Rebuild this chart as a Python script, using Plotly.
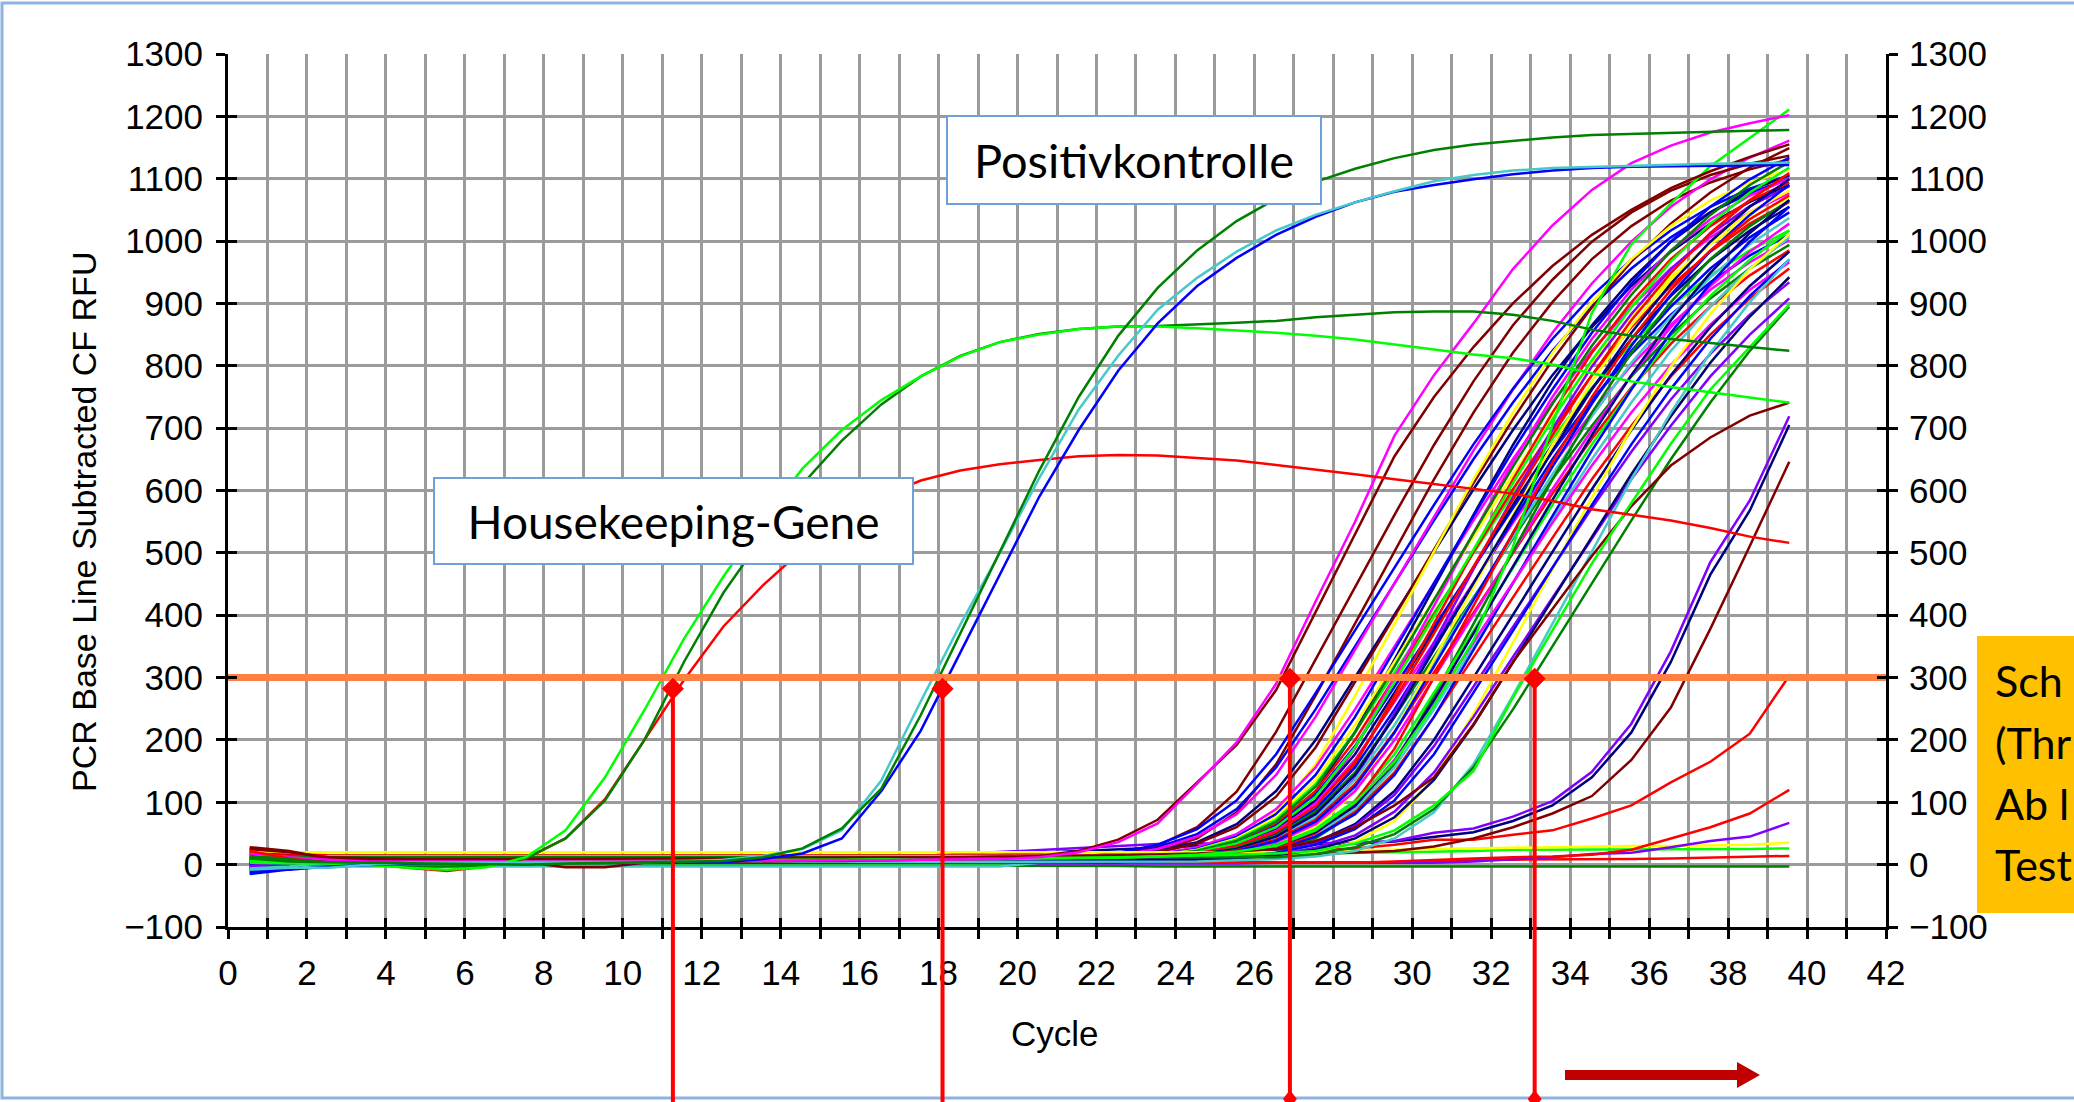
import plotly.graph_objects as go

# ---------------- data ----------------
cycles = list(range(1, 41))          # PCR cycles 1..40
cycle_draw_offset = 0.45             # the instrument plots cycle n at n-0.45

threshold_rfu = 300
ct_cycles = [11.27, 18.1, 26.9, 33.1]
ct_marker_rfu = [282, 282, 298, 298]

# housekeeping genes
hk_lime = [8, 3, 2, 0, -5, -8, -4, 12, 55, 140,
           248, 362, 462, 552, 635, 697, 745, 783, 815, 838,
           850, 859, 863, 863, 860, 857, 853, 848, 842, 834,
           826, 818, 812, 802, 788, 775, 766, 757, 749, 741]
hk_dkgreen = [14, 8, 3, 0, -3, -3, -2, 10, 42, 103,
              200, 325, 436, 526, 610, 680, 738, 783, 816, 838,
              851, 859, 863, 864, 866, 869, 872, 878, 882, 886,
              887, 887, 882, 872, 858, 848, 843, 837, 830, 824]
hk_red = [22, 10, 3, 2, -5, -10, -3, 10, 42, 105,
          200, 296, 382, 448, 505, 553, 590, 616, 632, 642,
          649, 655, 657, 656, 652, 648, 641, 634, 626, 618,
          610, 603, 595, 583, 570, 561, 552, 540, 526, 516]

# positive controls
pc_dkgreen = [10, 5, 4, 3, 2, 2, 1, 0, 2, 3,
              3, 4, 6, 12, 26, 58, 122, 240, 370, 500,
              632, 750, 848, 925, 985, 1032, 1068, 1095, 1116, 1133,
              1146, 1155, 1161, 1166, 1170, 1172, 1174, 1176, 1177, 1178]
pc_teal = [-8, -5, -5, 0, 3, 3, 3, 3, 3, 3,
           4, 5, 8, 14, 25, 55, 135, 262, 385, 500,
           620, 730, 816, 890, 941, 983, 1017, 1042, 1062, 1080,
           1096, 1106, 1113, 1117, 1119, 1121, 1123, 1124, 1125, 1126]
pc_blue = [-15, -8, -3, 0, 2, 2, 2, 2, 3, 3,
           3, 3, 4, 9, 18, 42, 118, 215, 340, 465,
           590, 697, 792, 868, 928, 973, 1010, 1039, 1062, 1079,
           1090, 1099, 1107, 1113, 1117, 1119, 1120, 1121, 1122, 1122]

# individual samples
magenta_early = [18, 12, 8, 5, 5, 5, 4, 4, 5, 5,
                 5, 5, 6, 6, 6, 7, 7, 8, 8, 9,
                 12, 20, 36, 66, 130, 196, 290, 422, 550, 688,
                 785, 868, 955, 1025, 1082, 1125, 1153, 1174, 1189, 1202]
maroon_early = [28, 22, 10, 6, 5, 5, 4, 4, -4, -4,
                3, 4, 5, 5, 6, 6, 7, 8, 9, 10,
                14, 22, 40, 72, 132, 192, 280, 405, 530, 655,
                750, 830, 900, 960, 1010, 1050, 1085, 1112, 1135, 1155]
lime_high = [5, 3, 4, 4, 4, 4, 4, 4, 5, 5,
             5, 6, 6, 6, 7, 7, 8, 8, 9, 9,
             10, 10, 11, 13, 16, 21, 30, 55, 100, 165,
             255, 360, 510, 705, 885, 995, 1060, 1120, 1165, 1211]
lime_late = [3, 2, 3, 4, 4, 4, 5, 5, 5, 6,
             6, 6, 7, 7, 8, 8, 8, 9, 9, 10,
             10, 11, 12, 13, 14, 16, 18, 22, 34, 55,
             95, 150, 268, 375, 483, 580, 675, 762, 830, 898]
maroon_mid = [25, 20, 12, 10, 9, 9, 9, 9, 10, 10,
              10, 10, 10, 11, 11, 11, 12, 12, 12, 13,
              13, 14, 15, 16, 18, 21, 25, 38, 60, 95,
              140, 225, 325, 410, 495, 575, 640, 685, 720, 741]
purple_late = [-8, -3, 0, 2, 3, 3, 4, 4, 5, 5,
               6, 6, 7, 8, 9, 10, 12, 14, 17, 20,
               24, 27, 30, 33, 34, 34, 34, 35, 35, 38,
               51, 58, 77, 102, 149, 226, 342, 485, 584, 719]
navy_late = [2, 2, 3, 3, 3, 4, 4, 4, 5, 5,
             5, 6, 6, 7, 8, 9, 10, 12, 14, 16,
             19, 22, 25, 28, 30, 31, 32, 33, 34, 37,
             45, 52, 70, 95, 140, 212, 325, 465, 568, 705]
maroon_late = [10, 8, 6, 5, 5, 5, 5, 5, 5, 6,
               6, 6, 6, 7, 7, 7, 8, 8, 8, 9,
               9, 10, 10, 11, 12, 13, 15, 17, 19, 22,
               29, 42, 60, 82, 110, 168, 252, 378, 511, 646]
red_late = [5, 4, 4, 4, 4, 4, 5, 5, 5, 5,
            6, 6, 6, 7, 7, 8, 8, 9, 9, 10,
            11, 12, 13, 14, 16, 18, 20, 23, 26, 32,
            40, 40, 48, 55, 74, 95, 132, 165, 210, 303]
red_late2 = [6, 5, 4, 4, 4, 4, 4, 4, 4, 4,
             4, 4, 4, 4, 4, 4, 4, 4, 4, 4,
             4, 4, 4, 4, 3, 3, 3, 3, 3, 5,
             8, 10, 12, 13, 16, 24, 42, 60, 82, 120]
purple_late2 = [-5, -2, 0, 1, 1, 1, 1, 1, 2, 2,
                2, 2, 2, 2, 2, 2, 2, 2, 2, 2,
                2, 2, 2, 2, 2, 2, 3, 3, 3, 3,
                3, 5, 8, 12, 17, 19, 28, 38, 45, 67]
yellow_flat = [10, 8, 6, 6, 6, 7, 7, 8, 8, 8,
               9, 9, 10, 10, 11, 11, 12, 12, 13, 14,
               15, 16, 17, 18, 19, 20, 21, 22, 23, 24,
               25, 26, 28, 29, 29, 30, 30, 31, 32, 35]
lime_flat = [12, 10, 8, 8, 8, 8, 8, 9, 9, 9,
             9, 10, 10, 10, 11, 11, 11, 12, 12, 12,
             13, 13, 14, 14, 15, 16, 17, 18, 19, 19,
             20, 22, 24, 24, 24, 25, 25, 25, 25, 26]
red_flat = [20, 15, 10, 8, 8, 7, 7, 7, 7, 7,
            6, 6, 6, 6, 6, 6, 6, 5, 5, 5,
            5, 5, 4, 4, 3, 3, 3, 3, 3, 4,
            6, 8, 8, 8, 8, 9, 10, 11, 12, 14]
dkgreen_flat = [12, 8, 4, 2, 1, 0, 0, -1, -1, -1,
                -1, -2, -2, -2, -2, -2, -2, -2, -2, -2,
                -2, -2, -2, -3, -3, -3, -3, -3, -3, -3,
                -3, -3, -3, -3, -3, -3, -3, -3, -3, -3]

# the main bundle of positive samples
s01 = [25, 18, 12, 12, 12, 12, 12, 12, 12, 12,
       12, 12, 12, 12, 12, 12, 12, 12, 12, 12,
       12, 12, 13, 22, 42, 84, 161, 271, 386, 503,
       618, 725, 821, 902, 971, 1024, 1065, 1094, 1115, 1131]
s02 = [-12, -5, 8, 8, 8, 8, 8, 8, 8, 8,
       8, 8, 8, 8, 8, 8, 8, 8, 8, 8,
       8, 11, 17, 28, 49, 89, 156, 249, 350, 451,
       552, 650, 741, 824, 895, 956, 1006, 1046, 1077, 1100]
s03 = [15, 12, 10, 10, 10, 10, 10, 10, 10, 10,
       10, 10, 10, 10, 10, 10, 10, 10, 10, 10,
       10, 11, 16, 25, 45, 81, 144, 237, 345, 451,
       559, 664, 762, 853, 932, 999, 1055, 1099, 1134, 1161]
s04 = [22, 16, 14, 14, 14, 14, 14, 14, 14, 14,
       14, 14, 14, 14, 14, 14, 14, 14, 14, 14,
       14, 14, 17, 31, 60, 117, 213, 329, 445, 561,
       673, 775, 865, 938, 999, 1046, 1081, 1106, 1124, 1137]
s05 = [-3, 3, 9, 9, 9, 9, 9, 9, 9, 9,
       9, 9, 9, 9, 9, 9, 9, 9, 9, 9,
       9, 12, 19, 32, 57, 103, 177, 275, 375, 476,
       577, 674, 763, 843, 912, 970, 1017, 1055, 1084, 1105]
s06 = [-6, 2, 6, 6, 6, 6, 6, 6, 6, 6,
       6, 6, 6, 6, 6, 6, 6, 6, 6, 6,
       6, 9, 13, 21, 36, 65, 118, 200, 300, 400,
       502, 602, 697, 785, 862, 928, 983, 1028, 1063, 1090]
s07 = [20, 16, 14, 14, 14, 14, 14, 14, 14, 14,
       14, 14, 14, 14, 14, 14, 14, 14, 14, 14,
       14, 14, 14, 20, 34, 60, 109, 188, 292, 398,
       505, 612, 714, 809, 894, 967, 1028, 1078, 1118, 1149]
s08 = [10, 6, 5, 5, 5, 5, 5, 5, 5, 5,
       5, 5, 5, 5, 5, 5, 5, 5, 5, 5,
       5, 7, 9, 13, 22, 42, 84, 161, 271, 386,
       503, 618, 725, 821, 902, 971, 1024, 1065, 1094, 1115]
s09 = [12, 10, 10, 10, 10, 10, 10, 10, 10, 10,
       10, 10, 10, 10, 10, 10, 10, 10, 10, 10,
       10, 10, 11, 17, 28, 49, 89, 156, 249, 350,
       451, 552, 650, 741, 824, 895, 956, 1006, 1046, 1077]
s10 = [0, 4, 8, 8, 8, 8, 8, 8, 8, 8,
       8, 8, 8, 8, 8, 8, 8, 8, 8, 8,
       8, 8, 8, 11, 17, 31, 60, 117, 213, 329,
       445, 561, 673, 775, 865, 938, 999, 1046, 1081, 1106]
s11 = [-10, -2, 4, 4, 4, 4, 4, 4, 4, 4,
       4, 4, 4, 4, 4, 4, 4, 4, 4, 4,
       4, 7, 11, 16, 25, 45, 81, 144, 237, 345,
       451, 559, 664, 762, 853, 932, 999, 1055, 1099, 1134]
s12 = [14, 12, 12, 12, 12, 12, 12, 12, 12, 12,
       12, 12, 12, 12, 12, 12, 12, 12, 12, 12,
       12, 12, 12, 15, 24, 42, 76, 136, 224, 325,
       425, 527, 626, 719, 805, 879, 942, 995, 1037, 1070]
s13 = [5, 6, 6, 6, 6, 6, 6, 6, 6, 6,
       6, 6, 6, 6, 6, 6, 6, 6, 6, 6,
       6, 7, 10, 14, 23, 40, 72, 129, 213, 309,
       404, 501, 595, 683, 765, 835, 895, 945, 985, 1017]
s14 = [20, 12, 9, 9, 9, 9, 9, 9, 9, 9,
       9, 9, 9, 9, 9, 9, 9, 9, 9, 9,
       9, 9, 9, 13, 21, 36, 65, 118, 200, 300,
       400, 502, 602, 697, 785, 862, 928, 983, 1028, 1063]
s15 = [8, 4, 3, 3, 3, 3, 3, 3, 3, 3,
       3, 3, 3, 3, 3, 3, 3, 3, 3, 3,
       4, 5, 7, 10, 15, 26, 50, 100, 186, 300,
       415, 532, 645, 750, 843, 922, 985, 1035, 1073, 1100]
s16 = [10, 10, 11, 11, 11, 11, 11, 11, 11, 11,
       11, 11, 11, 11, 11, 11, 11, 11, 11, 11,
       11, 11, 11, 14, 22, 38, 69, 125, 212, 318,
       424, 532, 638, 739, 832, 914, 984, 1042, 1090, 1127]
s17 = [-5, 0, 7, 7, 7, 7, 7, 7, 7, 7,
       7, 7, 7, 7, 7, 7, 7, 7, 7, 7,
       7, 7, 9, 12, 20, 34, 62, 112, 190, 285,
       380, 477, 572, 662, 746, 819, 882, 934, 977, 1010]
s18 = [2, 4, 5, 5, 5, 5, 5, 5, 5, 5,
       5, 5, 5, 5, 5, 5, 5, 5, 5, 5,
       5, 5, 8, 12, 19, 32, 57, 103, 177, 275,
       375, 476, 577, 674, 763, 843, 912, 970, 1017, 1055]
s19 = [18, 14, 13, 13, 13, 13, 13, 13, 13, 13,
       13, 13, 13, 13, 13, 13, 13, 13, 13, 13,
       13, 13, 13, 13, 13, 22, 42, 84, 161, 271,
       386, 503, 618, 725, 821, 902, 971, 1024, 1065, 1094]
s20 = [6, 3, 2, 2, 2, 2, 2, 2, 2, 2,
       2, 2, 2, 2, 2, 2, 2, 2, 2, 2,
       4, 5, 8, 13, 20, 34, 60, 109, 188, 292,
       398, 505, 612, 714, 809, 894, 967, 1028, 1078, 1118]
s21 = [14, 10, 8, 8, 8, 8, 8, 8, 8, 8,
       8, 8, 8, 8, 8, 8, 8, 8, 8, 8,
       8, 8, 8, 11, 18, 30, 54, 98, 168, 261,
       356, 452, 548, 640, 725, 801, 866, 922, 966, 1002]
s22 = [-8, 2, 10, 10, 10, 10, 10, 10, 10, 10,
       10, 10, 10, 10, 10, 10, 10, 10, 10, 10,
       10, 10, 10, 11, 17, 28, 49, 89, 156, 249,
       350, 451, 552, 650, 741, 824, 895, 956, 1006, 1046]
s23 = [-6, 0, 6, 6, 6, 6, 6, 6, 6, 6,
       6, 6, 6, 6, 6, 6, 6, 6, 6, 6,
       6, 6, 6, 8, 12, 20, 36, 70, 138, 242,
       356, 474, 589, 699, 799, 883, 955, 1011, 1056, 1088]
s24 = [24, 18, 15, 15, 15, 15, 15, 15, 15, 15,
       15, 15, 15, 15, 15, 15, 15, 15, 15, 15,
       15, 15, 15, 15, 18, 30, 52, 94, 165, 264,
       371, 478, 585, 689, 785, 873, 949, 1013, 1066, 1109]
s25 = [12, 6, 4, 4, 4, 4, 4, 4, 4, 4,
       4, 4, 4, 4, 4, 4, 4, 4, 4, 4,
       4, 5, 7, 10, 16, 27, 47, 85, 148, 237,
       333, 428, 524, 618, 704, 783, 850, 908, 956, 994]
s26 = [-6, -4, -3, -3, -3, -3, -3, -3, -3, -3,
       -3, -3, -3, -3, -3, -3, -3, -3, -3, -3,
       3, 4, 7, 10, 15, 24, 42, 76, 136, 224,
       325, 425, 527, 626, 719, 805, 879, 942, 995, 1037]
s27 = [12, 8, 7, 7, 7, 7, 7, 7, 7, 7,
       7, 7, 7, 7, 7, 7, 7, 7, 7, 7,
       7, 7, 7, 8, 11, 17, 31, 60, 117, 213,
       329, 445, 561, 673, 775, 865, 938, 999, 1046, 1081]
s28 = [6, 10, 12, 12, 12, 12, 12, 12, 12, 12,
       12, 12, 12, 12, 12, 12, 12, 12, 12, 12,
       12, 12, 12, 12, 16, 25, 45, 81, 144, 237,
       345, 451, 559, 664, 762, 853, 932, 999, 1055, 1099]
s29 = [16, 8, 3, 3, 3, 3, 3, 3, 3, 3,
       3, 3, 3, 3, 3, 3, 3, 3, 3, 3,
       3, 4, 7, 10, 14, 23, 40, 72, 129, 213,
       309, 404, 501, 595, 683, 765, 835, 895, 945, 985]
s30 = [10, 8, 8, 8, 8, 8, 8, 8, 8, 8,
       8, 8, 8, 8, 8, 8, 8, 8, 8, 8,
       8, 8, 8, 9, 13, 21, 36, 65, 118, 200,
       300, 400, 502, 602, 697, 785, 862, 928, 983, 1028]
s31 = [-14, -6, 10, 10, 10, 10, 10, 10, 10, 10,
       10, 10, 10, 10, 10, 10, 10, 10, 10, 10,
       10, 10, 10, 10, 14, 22, 38, 69, 125, 212,
       318, 424, 532, 638, 739, 832, 914, 984, 1042, 1090]
s32 = [8, 6, 5, 5, 5, 5, 5, 5, 5, 5,
       5, 5, 5, 5, 5, 5, 5, 5, 5, 5,
       5, 5, 5, 7, 9, 13, 22, 42, 84, 161,
       271, 386, 503, 618, 725, 821, 902, 971, 1024, 1065]
s33 = [4, 8, 11, 11, 11, 11, 11, 11, 11, 11,
       11, 11, 11, 11, 11, 11, 11, 11, 11, 11,
       11, 11, 11, 11, 12, 19, 32, 57, 103, 177,
       275, 375, 476, 577, 674, 763, 843, 912, 970, 1017]
s34 = [10, 7, 6, 6, 6, 6, 6, 6, 6, 6,
       6, 6, 6, 6, 6, 6, 6, 6, 6, 6,
       6, 6, 6, 7, 10, 16, 27, 47, 85, 148,
       237, 333, 428, 524, 618, 704, 783, 850, 908, 956]
s35 = [-2, 6, 14, 14, 14, 14, 14, 14, 14, 14,
       14, 14, 14, 14, 14, 14, 14, 14, 14, 14,
       14, 14, 14, 14, 14, 17, 28, 49, 89, 156,
       249, 350, 451, 552, 650, 741, 824, 895, 956, 1006]
s36 = [-6, 0, 3, 3, 3, 3, 3, 3, 3, 3,
       3, 3, 3, 3, 3, 3, 3, 3, 3, 3,
       3, 3, 4, 7, 11, 16, 25, 45, 81, 144,
       237, 345, 451, 559, 664, 762, 853, 932, 999, 1055]
s37 = [12, 10, 9, 9, 9, 9, 9, 9, 9, 9,
       9, 9, 9, 9, 9, 9, 9, 9, 9, 9,
       9, 9, 9, 9, 11, 18, 30, 54, 98, 168,
       261, 356, 452, 548, 640, 725, 801, 866, 922, 966]
s38 = [15, 9, 5, 5, 5, 5, 5, 5, 5, 5,
       5, 5, 5, 5, 5, 5, 5, 5, 5, 5,
       5, 5, 5, 7, 10, 15, 26, 50, 100, 186,
       300, 415, 532, 645, 750, 843, 922, 985, 1035, 1073]
s39 = [3, 5, 7, 7, 7, 7, 7, 7, 7, 7,
       7, 7, 7, 7, 7, 7, 7, 7, 7, 7,
       7, 7, 7, 7, 12, 18, 30, 52, 94, 165,
       264, 371, 478, 585, 689, 785, 873, 949, 1013, 1066]
s40 = [3, 6, 9, 9, 9, 9, 9, 9, 9, 9,
       9, 9, 9, 9, 9, 9, 9, 9, 9, 9,
       9, 9, 9, 9, 9, 13, 21, 36, 65, 118,
       200, 300, 400, 502, 602, 697, 785, 862, 928, 983]
s41 = [-4, 2, 7, 7, 7, 7, 7, 7, 7, 7,
       7, 7, 7, 7, 7, 7, 7, 7, 7, 7,
       7, 7, 7, 7, 9, 12, 20, 34, 62, 112,
       190, 285, 380, 477, 572, 662, 746, 819, 882, 934]
s42 = [14, 12, 12, 12, 12, 12, 12, 12, 12, 12,
       12, 12, 12, 12, 12, 12, 12, 12, 12, 12,
       12, 12, 12, 12, 12, 12, 12, 20, 36, 70,
       138, 242, 356, 474, 589, 699, 799, 883, 955, 1011]
s43 = [22, 20, 20, 20, 20, 20, 20, 20, 20, 20,
       20, 20, 20, 20, 20, 20, 20, 20, 20, 20,
       20, 20, 20, 20, 20, 20, 20, 24, 42, 76,
       136, 224, 325, 425, 527, 626, 719, 805, 879, 942]
s44 = [0, 3, 5, 5, 5, 5, 5, 5, 5, 5,
       5, 5, 5, 5, 5, 5, 5, 5, 5, 5,
       5, 5, 5, 5, 8, 12, 19, 32, 57, 103,
       177, 275, 375, 476, 577, 674, 763, 843, 912, 970]
s45 = [-2, 5, 10, 10, 10, 10, 10, 10, 10, 10,
       10, 10, 10, 10, 10, 10, 10, 10, 10, 10,
       10, 10, 10, 10, 10, 10, 16, 27, 47, 85,
       148, 237, 333, 428, 524, 618, 704, 783, 850, 908]
s46 = [4, 6, 8, 8, 8, 8, 8, 8, 8, 8,
       8, 8, 8, 8, 8, 8, 8, 8, 8, 8,
       8, 8, 8, 8, 8, 10, 15, 24, 42, 76,
       136, 224, 325, 425, 527, 626, 719, 805, 879, 942]
s47 = [-6, -3, 4, 4, 4, 4, 4, 4, 4, 4,
       4, 4, 4, 4, 4, 4, 4, 4, 4, 4,
       4, 4, 4, 4, 5, 7, 9, 13, 22, 42,
       84, 161, 271, 386, 503, 618, 725, 821, 902, 971]
s48 = [12, 12, 12, 12, 12, 12, 12, 12, 12, 12,
       12, 12, 12, 12, 12, 12, 12, 12, 12, 12,
       12, 12, 12, 12, 12, 12, 12, 17, 28, 49,
       89, 156, 249, 350, 451, 552, 650, 741, 824, 895]

# texts
label_positive = "Positivkontrolle"
label_housekeeping = "Housekeeping-Gene"
y_title = "PCR Base Line Subtracted CF RFU"
x_title = "Cycle"
box_lines = ["Sch", "(Thr", "Ab l", "Test"]   # the visible part of the cut-off box text

# ---------------- styles ----------------
RED, LIME, DKGREEN, BLUE = "#FF0000", "#00FF00", "#008000", "#0000FF"
NAVY, MAGENTA, YELLOW, TEAL = "#000080", "#FF00FF", "#FFFF00", "#48C8C8"
PURPLE, MAROON = "#8000FF", "#800000"

series = [
    (dkgreen_flat, DKGREEN), (red_flat, RED), (lime_flat, LIME), (yellow_flat, YELLOW),
    (purple_late2, PURPLE), (red_late2, RED), (red_late, RED), (maroon_late, MAROON),
    (navy_late, NAVY), (purple_late, PURPLE),
    (s01, MAROON), (s02, BLUE), (s03, MAGENTA), (s04, MAROON), (s05, BLUE),
    (s06, NAVY), (s07, MAROON), (s08, YELLOW), (s09, MAGENTA), (s10, NAVY),
    (s11, BLUE), (s12, YELLOW), (s13, LIME), (s14, RED), (s15, MAGENTA),
    (s16, DKGREEN), (s17, BLUE), (s18, NAVY), (s19, RED), (s20, LIME),
    (s21, MAGENTA), (s22, BLUE), (s23, PURPLE), (s24, RED), (s25, DKGREEN),
    (s26, TEAL), (s27, YELLOW), (s28, NAVY), (s29, RED), (s30, MAGENTA),
    (s31, BLUE), (s32, DKGREEN), (s33, LIME), (s34, RED), (s35, TEAL),
    (s36, BLUE), (s37, MAGENTA), (s38, RED), (s39, NAVY), (s40, NAVY),
    (s41, PURPLE), (s42, YELLOW), (s43, YELLOW), (s44, BLUE), (s45, PURPLE),
    (s46, NAVY), (s47, TEAL), (s48, DKGREEN),
    (maroon_mid, MAROON), (lime_late, LIME), (lime_high, LIME),
    (maroon_early, MAROON), (magenta_early, MAGENTA),
    (hk_red, RED), (hk_dkgreen, DKGREEN), (hk_lime, LIME),
    (pc_blue, BLUE), (pc_teal, TEAL), (pc_dkgreen, DKGREEN),
]
for i, (vals, _) in enumerate(series):
    if len(vals) != len(cycles):
        raise ValueError(f"series {i} has {len(vals)} values")

X_RANGE = [0, 42]
Y_RANGE = [-100, 1300]
W, H = 2074, 1102
M_L, M_R, M_T, M_B = 228, 188, 54, 175
PW, PH = W - M_L - M_R, H - M_T - M_B


def paper_x(px):
    return (px - M_L) / PW


def paper_y(py):
    return (H - M_B - py) / PH


def data_to_paper_x(v):
    return (v - X_RANGE[0]) / (X_RANGE[1] - X_RANGE[0])


def data_to_paper_y(v):
    return (v - Y_RANGE[0]) / (Y_RANGE[1] - Y_RANGE[0])


x_pos = [c - cycle_draw_offset for c in cycles]

fig = go.Figure()
for vals, col in series:
    fig.add_trace(go.Scatter(x=x_pos, y=vals, mode="lines",
                             line=dict(color=col, width=2.5),
                             hoverinfo="skip", showlegend=False))

# threshold line
fig.add_trace(go.Scatter(x=X_RANGE, y=[threshold_rfu, threshold_rfu], mode="lines",
                         line=dict(color="#FF8040", width=7),
                         hoverinfo="skip", showlegend=False))
# Ct markers
fig.add_trace(go.Scatter(x=ct_cycles, y=ct_marker_rfu, mode="markers",
                         marker=dict(symbol="diamond", size=17, color=RED),
                         hoverinfo="skip", showlegend=False))

# dummy traces so that the helper axes get drawn
for xa, ya in [("x", "y2"), ("x", "y3"), ("x", "y4"), ("x2", "y")]:
    fig.add_trace(go.Scatter(x=[None], y=[None], xaxis=xa, yaxis=ya,
                             hoverinfo="skip", showlegend=False))

TICKFONT = dict(family="Liberation Sans, Arial, sans-serif", size=35, color="black")
GRID = "#9B9B9B"

shapes = []
# outer frame of the slide
shapes.append(dict(type="rect", xref="paper", yref="paper",
                   x0=paper_x(2), x1=paper_x(2095), y0=paper_y(1098), y1=paper_y(3),
                   line=dict(color="#8DB3E2", width=3), layer="below"))
# orange info box
shapes.append(dict(type="rect", xref="paper", yref="paper",
                   x0=paper_x(1977), x1=paper_x(2100), y0=paper_y(913), y1=paper_y(636),
                   fillcolor="#FFC000", line=dict(width=0), layer="above"))
# Ct drop lines
for ct, rfu in zip(ct_cycles, ct_marker_rfu):
    shapes.append(dict(type="line", xref="paper", yref="paper",
                       x0=data_to_paper_x(ct), x1=data_to_paper_x(ct),
                       y0=data_to_paper_y(rfu), y1=paper_y(1110),
                       line=dict(color=RED, width=4), layer="above"))
# small diamonds where the last two drop lines leave the slide
for ct in ct_cycles[2:]:
    cx = data_to_paper_x(ct)
    dx = 7 / PW
    yc, yt, yb = paper_y(1099), paper_y(1090), paper_y(1108)
    shapes.append(dict(type="path", xref="paper", yref="paper",
                       path=f"M{cx - dx},{yc} L{cx},{yt} L{cx + dx},{yc} L{cx},{yb} Z",
                       fillcolor=RED, line=dict(width=0), layer="above"))
# dark red arrow
ax = [paper_x(v) for v in (1565, 1737, 1760)]
ay = [paper_y(v) for v in (1070, 1080, 1062, 1088, 1075)]
shapes.append(dict(type="path", xref="paper", yref="paper",
                   path=(f"M{ax[0]},{ay[0]} L{ax[1]},{ay[0]} L{ax[1]},{ay[2]} "
                         f"L{ax[2]},{ay[4]} L{ax[1]},{ay[3]} L{ax[1]},{ay[1]} "
                         f"L{ax[0]},{ay[1]} Z"),
                   fillcolor="#C00000", line=dict(width=0), layer="above"))

LABELFONT = dict(family="Lato, 'Open Sans', sans-serif", size=47, color="black")
annotations = [
    dict(text=label_positive, xref="paper", yref="paper",
         x=paper_x(1134), y=paper_y(160), xanchor="center", yanchor="middle",
         showarrow=False, font=LABELFONT, bgcolor="white",
         bordercolor="#6FA0D8", borderwidth=2, borderpad=0, width=372, height=86),
    dict(text=label_housekeeping, xref="paper", yref="paper",
         x=paper_x(673.5), y=paper_y(521), xanchor="center", yanchor="middle",
         showarrow=False, font=dict(family="Lato, 'Open Sans', sans-serif", size=46, color="black"),
         bgcolor="white",
         bordercolor="#6FA0D8", borderwidth=2, borderpad=0, width=477, height=84),
    dict(text=y_title, xref="paper", yref="paper",
         x=paper_x(84), y=paper_y(522), xanchor="center", yanchor="middle",
         textangle=-90, showarrow=False,
         font=dict(family="Liberation Sans, Arial, sans-serif", size=34, color="black")),
    dict(text=x_title, xref="paper", yref="paper",
         x=paper_x(1055), y=paper_y(1033), xanchor="center", yanchor="middle",
         showarrow=False,
         font=dict(family="Liberation Sans, Arial, sans-serif", size=35, color="black")),
]
box_line_y = [680, 742, 803, 864]
for txt, yy in zip(box_lines, box_line_y):
    annotations.append(dict(text=txt, xref="paper", yref="paper",
                            x=paper_x(1993), y=paper_y(yy), xanchor="left", yanchor="middle",
                            showarrow=False,
                            font=dict(family="Lato, 'Open Sans', sans-serif", size=43, color="black")))

axis_common = dict(range=Y_RANGE, dtick=100, tick0=0, zeroline=False)

fig.update_layout(
    width=W, height=H,
    margin=dict(l=M_L, r=M_R, t=M_T, b=M_B, pad=0),
    paper_bgcolor="white", plot_bgcolor="white",
    showlegend=False,
    font=dict(family="Liberation Sans, Arial, sans-serif", color="black"),
    xaxis=dict(range=X_RANGE, dtick=2, tick0=0, zeroline=False,
               showline=True, linecolor="black", linewidth=3,
               ticks="outside", ticklen=9, tickwidth=3, tickcolor="black",
               showgrid=True, gridcolor=GRID, gridwidth=2.5,
               minor=dict(dtick=1, ticks="outside", ticklen=9, tickwidth=3, tickcolor="black",
                          showgrid=True, gridcolor=GRID, gridwidth=2.5),
               tickfont=TICKFONT, ticklabelstandoff=4),
    xaxis2=dict(range=X_RANGE, dtick=2, tick0=0, overlaying="x", anchor="y", side="bottom",
                zeroline=False, showline=False, showgrid=False, showticklabels=False,
                ticks="inside", ticklen=9, tickwidth=3, tickcolor="black",
                minor=dict(dtick=1, ticks="inside", ticklen=9, tickwidth=3, tickcolor="black",
                           showgrid=False)),
    yaxis=dict(**axis_common, showline=True, linecolor="black", linewidth=3,
               ticks="outside", ticklen=9, tickwidth=3, tickcolor="black",
               showgrid=True, gridcolor=GRID, gridwidth=2.5,
               tickfont=TICKFONT, ticklabelstandoff=6),
    yaxis2=dict(**axis_common, overlaying="y", side="right", anchor="x",
                showline=True, linecolor="black", linewidth=3,
                ticks="outside", ticklen=9, tickwidth=3, tickcolor="black",
                showgrid=False, tickfont=TICKFONT, ticklabelstandoff=4),
    yaxis3=dict(**axis_common, overlaying="y", side="left", anchor="x",
                showline=False, showgrid=False, showticklabels=False,
                ticks="inside", ticklen=9, tickwidth=3, tickcolor="black"),
    yaxis4=dict(**axis_common, overlaying="y", side="right", anchor="x",
                showline=False, showgrid=False, showticklabels=False,
                ticks="inside", ticklen=9, tickwidth=3, tickcolor="black"),
    shapes=shapes,
    annotations=annotations,
)

fig.write_html("out.html", config={"displayModeBar": False},
               post_script="document.body.style.margin='0';document.body.style.overflow='hidden';")
